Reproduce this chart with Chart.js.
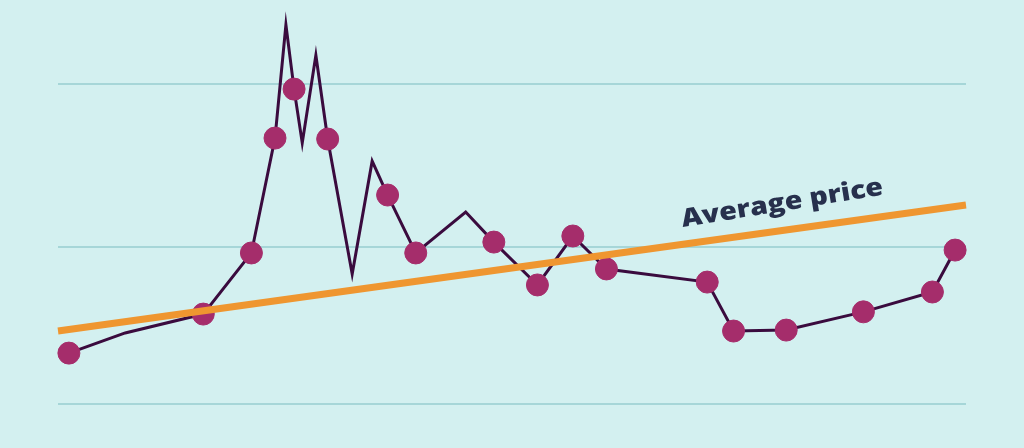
<!DOCTYPE html>
<html lang="en">
<head>
    <meta charset="UTF-8">
    <script src="https://cdn.jsdelivr.net/npm/chart.js"></script>
    <style>
        html, body {
            margin: 0;
            padding: 0;
            background: #d3f0f0;
        }
        #chartDiv {
            width: 1024px;
            height: 448px;
        }
    </style>
    <title>Average price</title>
</head>
<body>
    <div id="chartDiv">
        <canvas id="priceChart"></canvas>
    </div>
<script>
    // price over time (x = time, y = price, arbitrary units)
    var timeVals  = [1.2, 7.4, 16.0, 21.3, 23.9, 25.1, 26.0, 26.9, 28.4, 29.7, 32.4, 34.6, 36.3,
                     39.4, 44.9, 48.0, 52.8, 56.7, 60.4, 71.5, 74.4, 80.2, 88.7, 96.3, 98.8];
    var priceVals = [15.9, 22.2, 28.1, 47.2, 83.1, 118.5, 98.4, 81.6, 109.0, 82.8, 40.6, 75.9, 65.3,
                     47.2, 60.0, 50.6, 37.2, 52.5, 42.2, 38.1, 22.8, 23.1, 28.8, 35.0, 48.1];
    // 1 = dot drawn on that point, 0 = plain corner
    var showDot   = [1, 0, 1, 1, 1, 0, 1, 0, 0, 1, 0, 0, 1,
                     1, 0, 1, 1, 1, 1, 1, 1, 1, 1, 1, 1];

    var avgTime  = [0, 100];
    var avgPrice = [22.8, 62.2];

    var gridVals = [0, 49, 100];

    var label = "Average price";
    var labelAt = {x: 68.8, y: 55.3};

    function pts(xs, ys) {
        let out = [];
        for (let i = 0; i < xs.length; i++) {
            out.push({x: xs[i], y: ys[i]});
        }
        return out;
    }

    const labelPlugin = {
        id: 'avgLabel',
        afterDatasetsDraw(chart) {
            let c = chart.ctx;
            let px = chart.scales.x.getPixelForValue(labelAt.x);
            let py = chart.scales.y.getPixelForValue(labelAt.y);
            c.save();
            c.translate(px, py);
            c.rotate(-9.2 * Math.PI / 180);
            c.font = "800 25px 'Open Sans'";
            let w = c.measureText(label).width;
            c.scale(204 / w, 1);
            c.fillStyle = '#27304d';
            c.textBaseline = 'alphabetic';
            c.fillText(label, 0, 0);
            c.restore();
        }
    };

    const ctx = document.getElementById('priceChart');

    var chart = new Chart(ctx, {
        type: 'line',
        data: {
            datasets: [
                {
                    label: "Average price",
                    data: pts(avgTime, avgPrice),
                    borderColor: '#ef9630',
                    borderWidth: 7,
                    pointRadius: 0,
                    borderCapStyle: 'butt',
                    order: 0,
                    clip: false
                },
                {
                    label: "Price",
                    data: pts(timeVals, priceVals),
                    borderColor: '#3a0b3e',
                    borderWidth: 3,
                    borderJoinStyle: 'miter',
                    pointRadius: showDot.map(d => d ? 11 : 0),
                    pointBackgroundColor: '#a52d6b',
                    pointBorderColor: '#a52d6b',
                    pointBorderWidth: 1,
                    order: 1,
                    clip: false
                }
            ]
        },
        options: {
            responsive: true,
            maintainAspectRatio: false,
            animation: false,
            layout: {
                autoPadding: false,
                padding: {left: 58, right: 58, top: 0, bottom: 0}
            },
            plugins: {
                legend: {display: false},
                tooltip: {enabled: false}
            },
            scales: {
                x: {
                    type: 'linear',
                    min: 0,
                    max: 100,
                    display: false
                },
                y: {
                    type: 'linear',
                    min: -13.75,
                    max: 126.25,
                    afterBuildTicks: (axis) => {
                        axis.ticks = gridVals.map(v => ({value: v}));
                    },
                    ticks: {display: false},
                    border: {display: false},
                    grid: {
                        color: '#a6d6d8',
                        lineWidth: 2,
                        drawTicks: false
                    }
                }
            }
        },
        plugins: [labelPlugin]
    });
</script>
</body>
</html>
